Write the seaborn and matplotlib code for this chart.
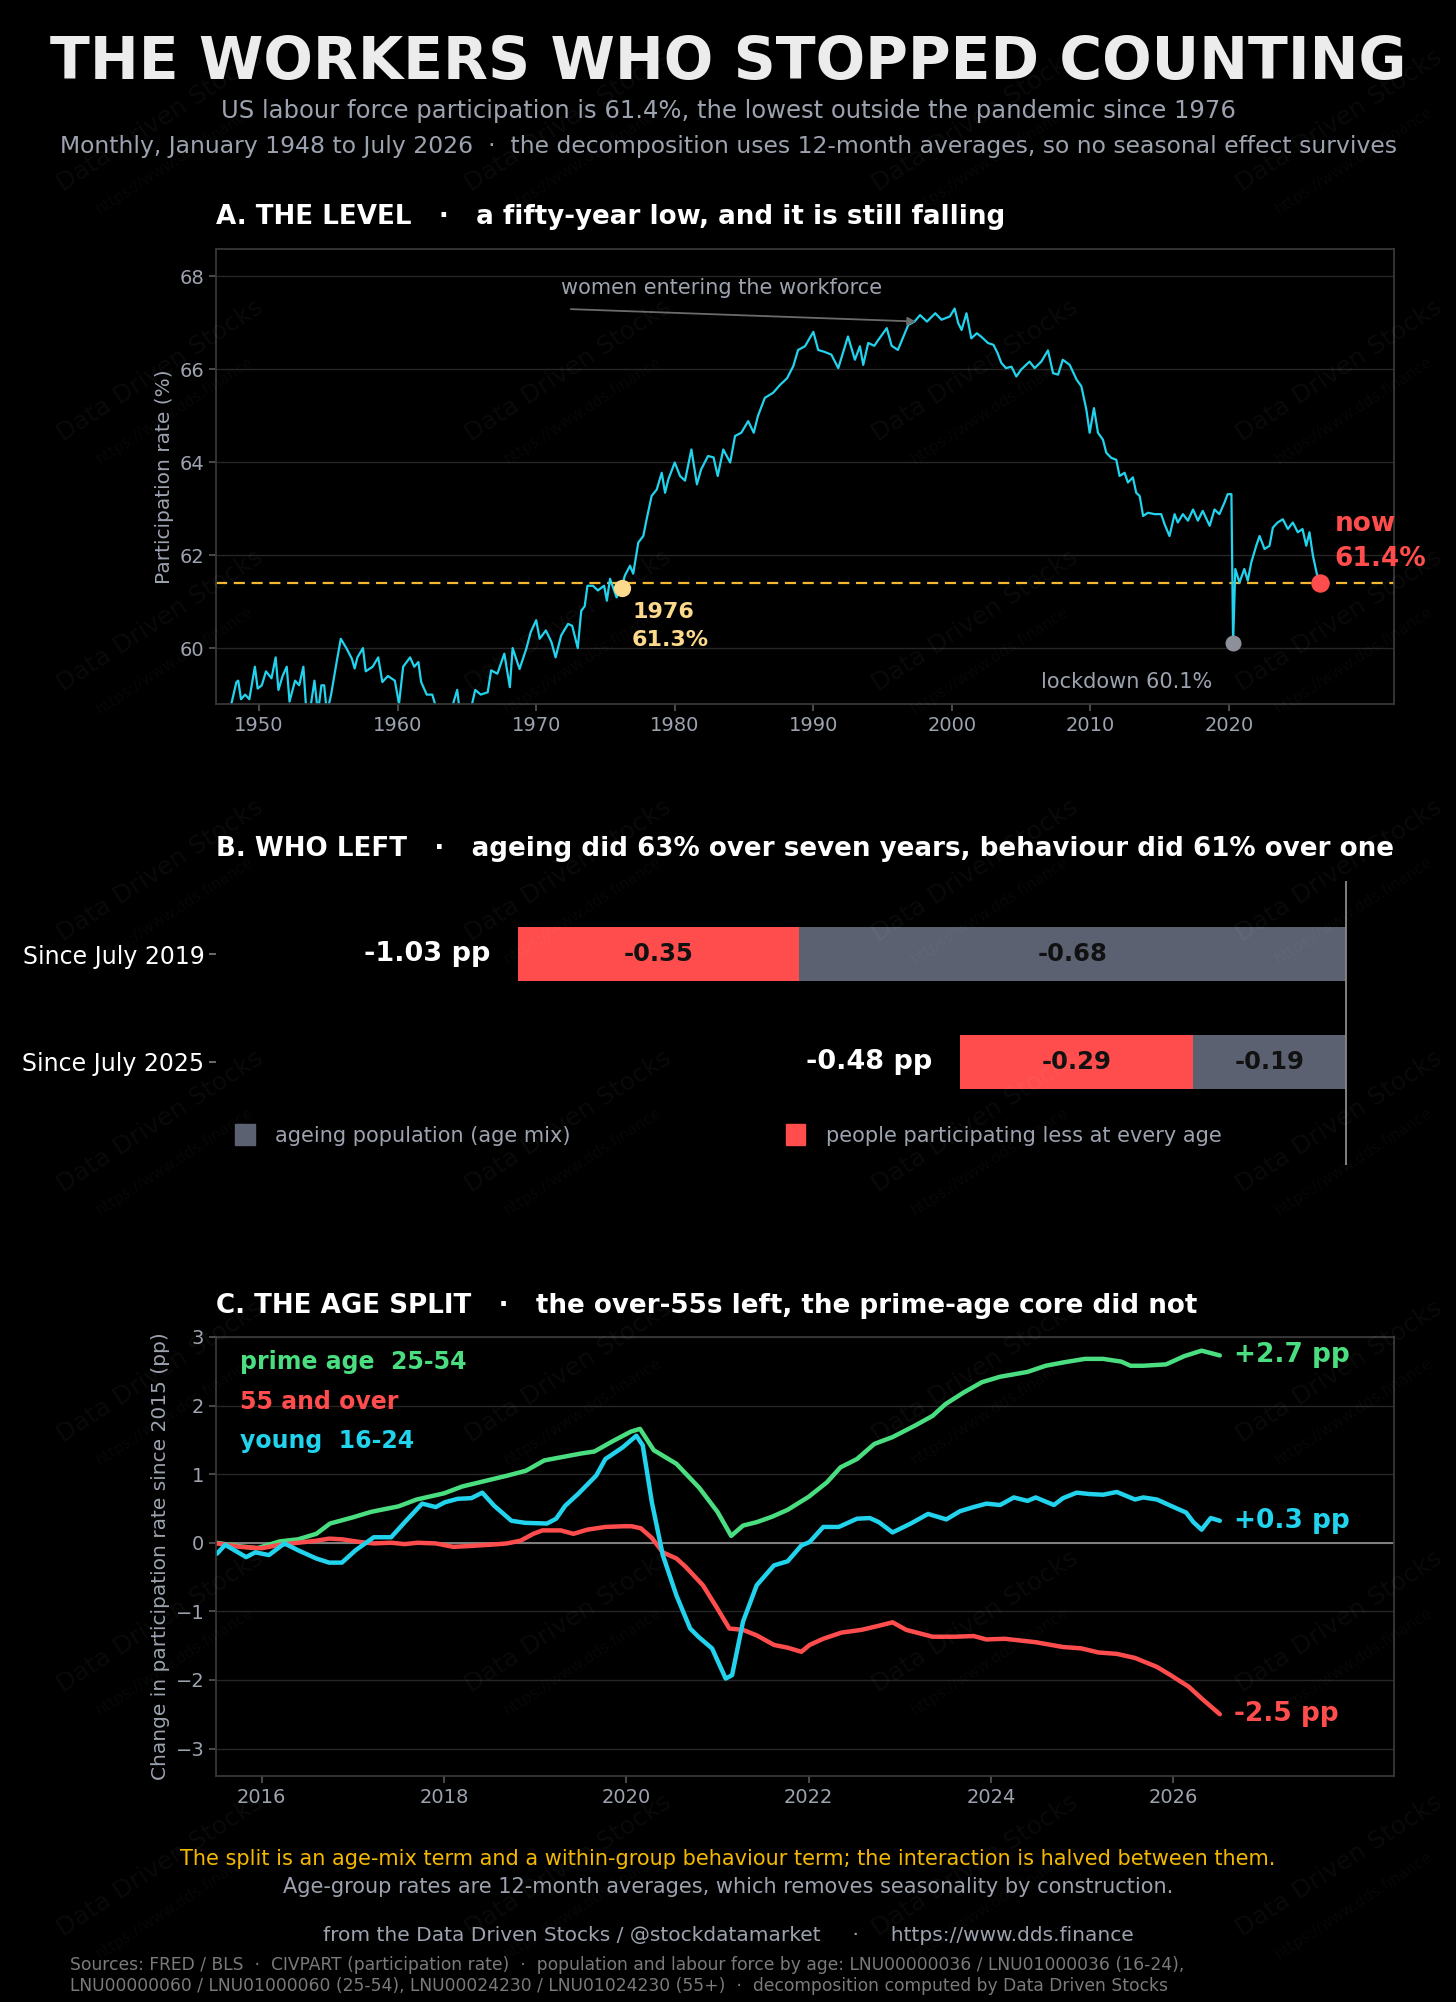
import matplotlib
matplotlib.use("Agg")
from matplotlib import pyplot as plt
from matplotlib.patches import Patch
import seaborn as sns

# Colours
BG = "#000000"
CYAN = "#22d3ee"
GREEN = "#4ade80"
RED = "#ff4d4d"
SLATE = "#5b6170"
AMBER = "#f5b731"
SAND = "#fcd98b"
MUTED = "#9ca3af"
GRIDC = "#262626"
SPINE = "#3a3a3a"

# A. participation rate (decimal year, %)
lfpr_year = [
    1948.0, 1948.37, 1948.5, 1948.7, 1949.0, 1949.3, 1949.7, 1949.9, 1950.2, 1950.5,
    1950.9, 1951.2, 1951.4, 1951.7, 1952.0, 1952.2, 1952.6, 1952.9, 1953.2, 1953.4,
    1953.7, 1954.0, 1954.25, 1954.5, 1954.7, 1954.9, 1955.2, 1955.6, 1955.9, 1956.3,
    1956.7, 1956.9, 1957.1, 1957.5, 1957.7, 1958.2, 1958.6, 1958.9, 1959.3, 1959.8,
    1960.1, 1960.4, 1960.9, 1961.2, 1961.5, 1961.7, 1962.1, 1962.5, 1962.8, 1963.4,
    1963.9, 1964.3, 1964.5, 1965.3, 1965.6, 1966.0, 1966.5, 1966.75, 1967.2, 1967.7,
    1968.1, 1968.3, 1968.8, 1969.3, 1969.6, 1970.0, 1970.25, 1970.7, 1971.1, 1971.4,
    1971.8, 1972.3, 1972.6, 1973.0, 1973.25, 1973.5, 1973.7, 1974.1, 1974.45, 1974.9,
    1975.1, 1975.33, 1975.8, 1976.17, 1976.4, 1976.77, 1977.0, 1977.37, 1977.73, 1977.97,
    1978.33, 1978.7, 1979.06, 1979.3, 1979.54, 1980.0, 1980.38, 1980.74, 1981.2, 1981.6,
    1981.9, 1982.4, 1982.8, 1983.1, 1983.5, 1984.0, 1984.35, 1984.8, 1985.3, 1985.7,
    1986.0, 1986.5, 1987.1, 1987.6, 1988.1, 1988.55, 1988.9, 1989.4, 1990.0, 1990.35,
    1990.8, 1991.3, 1991.8, 1992.5, 1993.0, 1993.36, 1993.6, 1993.96, 1994.4, 1994.7,
    1995.3, 1995.65, 1996.1, 1996.5, 1996.85, 1997.3, 1997.7, 1998.2, 1998.8, 1999.25,
    1999.85, 2000.2, 2000.45, 2000.7, 2001.05, 2001.4, 2001.8, 2002.1, 2002.6, 2003.0,
    2003.3, 2003.57, 2003.9, 2004.3, 2004.65, 2005.0, 2005.6, 2005.97, 2006.45, 2006.93,
    2007.3, 2007.66, 2008.0, 2008.5, 2009.0, 2009.34, 2009.7, 2009.94, 2010.25, 2010.54,
    2010.9, 2011.14, 2011.5, 2011.86, 2012.1, 2012.46, 2012.7, 2013.06, 2013.3, 2013.55,
    2013.8, 2014.15, 2014.63, 2015.1, 2015.35, 2015.7, 2016.07, 2016.3, 2016.67, 2017.03,
    2017.4, 2017.75, 2018.1, 2018.6, 2018.95, 2019.3, 2019.67, 2019.9, 2020.17, 2020.29,
    2020.45, 2020.75, 2021.1, 2021.35, 2021.6, 2021.96, 2022.2, 2022.56, 2022.92, 2023.16,
    2023.5, 2023.88, 2024.24, 2024.6, 2024.96, 2025.3, 2025.57, 2025.8, 2026.05, 2026.36,
    2026.53,
]
lfpr_rate = [
    58.8, 59.27, 59.3, 58.9, 59.0, 58.9, 59.6, 59.13, 59.2, 59.5,
    59.35, 59.8, 59.1, 59.4, 59.6, 58.85, 59.3, 59.2, 59.6, 58.7,
    58.7, 59.3, 58.6, 59.2, 59.2, 58.6, 59.0, 59.7, 60.2, 60.0,
    59.77, 59.56, 59.8, 60.0, 59.5, 59.6, 59.8, 59.27, 59.4, 59.3,
    58.8, 59.6, 59.8, 59.6, 59.7, 59.27, 59.0, 59.0, 58.7, 58.6,
    58.7, 59.1, 58.6, 58.7, 59.1, 59.0, 59.05, 59.52, 59.45, 59.88,
    59.16, 60.0, 59.55, 60.0, 60.34, 60.6, 60.2, 60.38, 60.13, 59.8,
    60.27, 60.52, 60.48, 60.0, 60.8, 60.9, 61.34, 61.34, 61.24, 61.34,
    61.02, 61.49, 61.09, 61.3, 61.56, 61.77, 61.6, 62.27, 62.41, 62.77,
    63.27, 63.41, 63.77, 63.34, 63.63, 63.99, 63.7, 63.6, 64.27, 63.52,
    63.84, 64.13, 64.1, 63.7, 64.27, 63.99, 64.56, 64.63, 64.88, 64.63,
    64.99, 65.38, 65.49, 65.66, 65.8, 66.06, 66.41, 66.49, 66.8, 66.41,
    66.37, 66.31, 66.02, 66.7, 66.2, 66.49, 66.09, 66.56, 66.5, 66.63,
    66.88, 66.5, 66.41, 66.7, 66.95, 67.02, 67.16, 67.02, 67.2, 67.06,
    67.13, 67.3, 66.99, 66.84, 67.2, 66.66, 66.77, 66.7, 66.56, 66.52,
    66.34, 66.13, 66.02, 66.05, 65.84, 65.99, 66.16, 66.02, 66.16, 66.4,
    65.91, 65.88, 66.2, 66.09, 65.77, 65.63, 65.13, 64.63, 65.16, 64.63,
    64.48, 64.2, 64.09, 64.05, 63.7, 63.77, 63.56, 63.67, 63.34, 63.27,
    62.84, 62.91, 62.88, 62.88, 62.66, 62.41, 62.88, 62.7, 62.88, 62.74,
    62.98, 62.74, 62.95, 62.63, 62.98, 62.88, 63.13, 63.31, 63.31, 60.1,
    61.7, 61.41, 61.7, 61.45, 61.84, 62.2, 62.41, 62.13, 62.2, 62.59,
    62.7, 62.77, 62.56, 62.7, 62.49, 62.56, 62.2, 62.49, 61.99, 61.56,
    61.4,
]
mark_1976 = (1976.17, 61.3)
decade_ticks = [1950, 1960, 1970, 1980, 1990, 2000, 2010, 2020]
rate_ticks = [60, 62, 64, 66, 68]

# B. decomposition of the fall (pp)
periods = ["Since July 2019", "Since July 2025"]
ageing = [-0.68, -0.19]
behaviour = [-0.35, -0.29]

# C. change since 2015 by age group (pp, 12-month averages)
prime_year = [
    2015.5, 2015.75, 2015.95, 2016.2, 2016.4, 2016.6, 2016.75, 2017.0, 2017.2, 2017.5,
    2017.7, 2018.0, 2018.2, 2018.45, 2018.7, 2018.9, 2019.1, 2019.3, 2019.5, 2019.65,
    2019.85, 2020.05, 2020.15, 2020.3, 2020.55, 2020.8, 2021.0, 2021.15, 2021.28, 2021.43,
    2021.6, 2021.77, 2022.0, 2022.2, 2022.35, 2022.53, 2022.72, 2022.92, 2023.17, 2023.36,
    2023.5, 2023.7, 2023.9, 2024.1, 2024.4, 2024.6, 2024.8, 2025.03, 2025.23, 2025.43,
    2025.53, 2025.67, 2025.92, 2026.12, 2026.31, 2026.51,
]
prime_chg = [
    0.0, -0.05, -0.08, 0.02, 0.05, 0.13, 0.28, 0.37, 0.45, 0.53,
    0.63, 0.72, 0.82, 0.9, 0.98, 1.05, 1.2, 1.25, 1.3, 1.33,
    1.48, 1.62, 1.66, 1.35, 1.15, 0.8, 0.45, 0.1, 0.25, 0.3,
    0.38, 0.48, 0.67, 0.88, 1.1, 1.22, 1.44, 1.54, 1.71, 1.85,
    2.02, 2.19, 2.34, 2.42, 2.49, 2.58, 2.63, 2.68, 2.68, 2.64,
    2.58, 2.58, 2.6, 2.72, 2.8, 2.73,
]
older_year = [
    2015.51, 2015.76, 2016.0, 2016.2, 2016.4, 2016.6, 2016.74, 2016.88, 2017.08, 2017.23,
    2017.42, 2017.57, 2017.71, 2017.91, 2018.1, 2018.25, 2018.5, 2018.69, 2018.84, 2018.98,
    2019.08, 2019.28, 2019.42, 2019.57, 2019.77, 2019.96, 2020.06, 2020.16, 2020.28, 2020.4,
    2020.55, 2020.65, 2020.84, 2020.99, 2021.13, 2021.28, 2021.43, 2021.62, 2021.77, 2021.92,
    2022.01, 2022.16, 2022.36, 2022.58, 2022.77, 2022.92, 2023.07, 2023.36, 2023.61, 2023.81,
    2023.95, 2024.15, 2024.49, 2024.79, 2024.99, 2025.18, 2025.38, 2025.58, 2025.82, 2025.97,
    2026.17, 2026.31, 2026.51,
]
older_chg = [
    -0.01, -0.06, -0.08, -0.03, 0.0, 0.03, 0.06, 0.05, 0.01, -0.01,
    0.0, -0.02, 0.0, -0.01, -0.06, -0.05, -0.03, -0.01, 0.03, 0.13,
    0.18, 0.18, 0.13, 0.19, 0.23, 0.24, 0.24, 0.21, 0.07, -0.14,
    -0.23, -0.35, -0.62, -0.94, -1.25, -1.27, -1.35, -1.49, -1.53, -1.59,
    -1.49, -1.4, -1.31, -1.27, -1.21, -1.16, -1.27, -1.37, -1.37, -1.36,
    -1.41, -1.4, -1.45, -1.52, -1.54, -1.6, -1.62, -1.68, -1.81, -1.93,
    -2.1, -2.27, -2.5,
]
young_year = [
    2015.51, 2015.6, 2015.83, 2015.93, 2016.08, 2016.25, 2016.4, 2016.6, 2016.74, 2016.88,
    2017.03, 2017.23, 2017.42, 2017.57, 2017.76, 2017.91, 2018.01, 2018.15, 2018.3, 2018.42,
    2018.55, 2018.74, 2018.89, 2019.13, 2019.23, 2019.33, 2019.47, 2019.67, 2019.77, 2019.96,
    2020.11, 2020.18, 2020.28, 2020.4, 2020.55, 2020.7, 2020.79, 2020.94, 2021.09, 2021.16,
    2021.28, 2021.43, 2021.62, 2021.77, 2021.92, 2022.01, 2022.16, 2022.33, 2022.53, 2022.67,
    2022.77, 2022.92, 2023.12, 2023.31, 2023.51, 2023.66, 2023.81, 2023.95, 2024.1, 2024.25,
    2024.4, 2024.49, 2024.69, 2024.79, 2024.94, 2025.08, 2025.23, 2025.38, 2025.58, 2025.67,
    2025.82, 2025.97, 2026.14, 2026.22, 2026.31, 2026.41, 2026.51,
]
young_chg = [
    -0.16, -0.03, -0.21, -0.14, -0.18, -0.01, -0.11, -0.23, -0.29, -0.29,
    -0.11, 0.08, 0.08, 0.3, 0.57, 0.52, 0.59, 0.64, 0.65, 0.73,
    0.54, 0.32, 0.29, 0.28, 0.35, 0.54, 0.71, 0.98, 1.22, 1.39,
    1.56, 1.42, 0.59, -0.18, -0.77, -1.25, -1.37, -1.54, -1.98, -1.93,
    -1.15, -0.62, -0.33, -0.27, -0.04, 0.01, 0.23, 0.23, 0.35, 0.36,
    0.3, 0.15, 0.28, 0.42, 0.34, 0.46, 0.52, 0.57, 0.55, 0.66,
    0.61, 0.66, 0.55, 0.65, 0.73, 0.71, 0.7, 0.74, 0.63, 0.66,
    0.63, 0.54, 0.44, 0.3, 0.19, 0.36, 0.32,
]
year_ticks = [2016, 2018, 2020, 2022, 2024, 2026]
chg_ticks = [-3, -2, -1, 0, 1, 2, 3]

sns.set_theme(style="dark", rc={
    "figure.facecolor": BG, "axes.facecolor": BG, "savefig.facecolor": BG,
    "axes.edgecolor": SPINE, "grid.color": GRIDC, "text.color": "white",
    "axes.labelcolor": MUTED, "xtick.color": MUTED, "ytick.color": MUTED,
    "xtick.bottom": True, "ytick.left": True,
})
plt.rcParams["font.family"] = ["DejaVu Sans"]

fig = plt.figure(figsize=(14.56, 20.02), dpi=100)
L, W = 0.1484, 0.809
axA = fig.add_axes([L, 0.6484, W, 0.2272])
axB = fig.add_axes([L, 0.4181, W, 0.1418])
axC = fig.add_axes([L, 0.1129, W, 0.2193])

# watermark (very faint), kept inside the canvas
for yy in [0.94, 0.815, 0.69, 0.565, 0.44, 0.315, 0.19, 0.068]:
    for xx in [0.11, 0.39, 0.67, 0.92]:
        fig.text(xx, yy, "Data Driven Stocks", rotation=33, ha="center", va="center",
                 fontsize=18, color="white", alpha=0.045)
        fig.text(xx + 0.01, yy - 0.02, "https://www.dds.finance", rotation=33, ha="center",
                 va="center", fontsize=11, color="white", alpha=0.035)

# header
fig.text(0.5, 0.969, "THE WORKERS WHO STOPPED COUNTING", ha="center", va="center",
         fontsize=42, fontweight="bold", color="#ececec")
fig.text(0.5, 0.9445, "US labour force participation is 61.4%, the lowest outside the pandemic since 1976",
         ha="center", va="center", fontsize=17.5, color=MUTED)
fig.text(0.5, 0.9266, "Monthly, January 1948 to July 2026  \u00b7  the decomposition uses 12-month averages, "
         "so no seasonal effect survives", ha="center", va="center", fontsize=16.9, color=MUTED)

# ---- A. level
sns.lineplot(x=lfpr_year, y=lfpr_rate, ax=axA, color=CYAN, lw=1.6)
now_x, now_y = lfpr_year[-1], lfpr_rate[-1]
low_i = lfpr_rate.index(min(lfpr_rate[-80:]))
axA.axhline(now_y, color=AMBER, lw=1.6, ls=(0, (5, 3)), zorder=1)
axA.scatter([mark_1976[0]], [mark_1976[1]], s=130, color=SAND, zorder=5)
axA.scatter([lfpr_year[low_i]], [lfpr_rate[low_i]], s=110, color="#8e9099", zorder=5)
axA.scatter([now_x], [now_y], s=150, color=RED, zorder=5)
axA.text(mark_1976[0] + 0.75, mark_1976[1] - 0.3, f"{int(mark_1976[0])}\n{mark_1976[1]:.1f}%",
         color=SAND, fontsize=16, fontweight="bold", va="top", ha="left", linespacing=1.5)
axA.text(now_x + 1.1, 62.95, f"now\n{now_y:.1f}%", color=RED, fontsize=19,
         fontweight="bold", va="top", ha="left", linespacing=1.45)
axA.text(2012.6, 59.28, f"lockdown {lfpr_rate[low_i]:.1f}%", color=MUTED, fontsize=15,
         ha="center", va="center")
axA.text(1971.8, 67.75, "women entering the workforce", color=MUTED, fontsize=15,
         ha="left", va="center")
axA.annotate("", xy=(1997.6, 67.02), xytext=(1972.3, 67.29),
             arrowprops=dict(arrowstyle="-|>", color="#6b6b6b", lw=1.3, mutation_scale=12))
axA.set_xlim(1946.9, 2031.9)
axA.set_ylim(58.8, 68.58)
axA.set_xticks(decade_ticks)
axA.set_yticks(rate_ticks)
axA.set_xlabel("")
axA.set_ylabel("Participation rate (%)", fontsize=14.5)
axA.grid(axis="y", color=GRIDC, lw=1)
axA.grid(axis="x", visible=False)
axA.tick_params(labelsize=14, length=5, color="#555")
axA.text(0, 1.07, "A. THE LEVEL   \u00b7   a fifty-year low, and it is still falling",
         transform=axA.transAxes, fontsize=18.8, fontweight="bold", color="white", va="center")

# ---- B. who left
totals = [a + b for a, b in zip(ageing, behaviour)]
sns.barplot(x=totals, y=periods, orient="h", color=RED, width=0.5, saturation=1,
            linewidth=0, edgecolor="none", ax=axB)
sns.barplot(x=ageing, y=periods, orient="h", color=SLATE, width=0.5, saturation=1,
            linewidth=0, edgecolor="none", ax=axB)
for i, (a, b, t) in enumerate(zip(ageing, behaviour, totals)):
    axB.text(a / 2, i, f"{a:.2f}", ha="center", va="center", fontsize=17.5,
             fontweight="bold", color="#111")
    axB.text(a + b / 2, i, f"{b:.2f}", ha="center", va="center", fontsize=17.5,
             fontweight="bold", color="#111")
    axB.text(t - 0.034, i, f"{t:.2f} pp", ha="right", va="center", fontsize=19.5,
             fontweight="bold", color="white")
axB.axvline(0, color="#8a8a8a", lw=1.3)
axB.set_xlim(-1.405, 0.06)
axB.set_ylim(1.96, -0.68)
axB.set_xticks([])
axB.set_xlabel("")
axB.set_ylabel("")
axB.tick_params(axis="y", labelsize=17, labelcolor="white", length=5, color="#777")
for s in axB.spines.values():
    s.set_visible(False)
axB.grid(False)
hB = [Patch(color=SLATE, label="ageing population (age mix)"),
      Patch(color=RED, label="people participating less at every age")]
axB.legend(handles=hB, loc="center left", bbox_to_anchor=(0.0, 0.105), ncol=2,
           frameon=False, fontsize=15, labelcolor=MUTED, handlelength=0.95,
           handleheight=1.15, handletextpad=1.0, columnspacing=10.3)
axB.text(0, 1.113, "B. WHO LEFT   \u00b7   ageing did 63% over seven years, behaviour did 61% over one",
         transform=axB.transAxes, fontsize=18.8, fontweight="bold", color="white", va="center")

# ---- C. age split
groups = [
    ("prime age  25-54", prime_year, prime_chg, GREEN),
    ("55 and over", older_year, older_chg, RED),
    ("young  16-24", young_year, young_chg, CYAN),
]
axC.axhline(0, color="#8a8a8a", lw=1.3, zorder=1)
for k, (name, xs, ys, col) in enumerate(groups):
    sns.lineplot(x=xs, y=ys, ax=axC, color=col, lw=3.2)
    axC.text(xs[-1] + 0.15, ys[-1], f"{ys[-1]:+.1f} pp", color=col, fontsize=19,
             fontweight="bold", va="center", ha="left")
    axC.text(0.02, 0.942 - k * 0.09, name, transform=axC.transAxes, color=col,
             fontsize=17, fontweight="bold", va="center", ha="left")
axC.set_xlim(2015.5, 2028.42)
axC.set_ylim(-3.4, 3.0)
axC.set_xticks(year_ticks)
axC.set_yticks(chg_ticks)
axC.set_yticklabels([f"{v}".replace("-", "\u2212") for v in chg_ticks])
axC.set_xlabel("")
axC.set_ylabel("Change in participation rate since 2015 (pp)", fontsize=14.5)
axC.grid(axis="y", color=GRIDC, lw=1)
axC.grid(axis="x", visible=False)
axC.tick_params(labelsize=14, length=5, color="#555")
axC.text(0, 1.071, "C. THE AGE SPLIT   \u00b7   the over-55s left, the prime-age core did not",
         transform=axC.transAxes, fontsize=18.8, fontweight="bold", color="white", va="center")

# footer
fig.text(0.5, 0.0714, "The split is an age-mix term and a within-group behaviour term; "
         "the interaction is halved between them.", ha="center", va="center",
         fontsize=15, color="#f5b800")
fig.text(0.5, 0.0574, "Age-group rates are 12-month averages, which removes seasonality by construction.",
         ha="center", va="center", fontsize=15, color=MUTED)
fig.text(0.5, 0.0330, "from the Data Driven Stocks / @stockdatamarket     \u00b7     https://www.dds.finance",
         ha="center", va="center", fontsize=14.5, color=MUTED)
fig.text(0.048, 0.0185, "Sources: FRED / BLS  \u00b7  CIVPART (participation rate)  \u00b7  population and labour "
         "force by age: LNU00000036 / LNU01000036 (16-24),", ha="left", va="center",
         fontsize=12.3, color="#7a7a7a")
fig.text(0.048, 0.0080, "LNU00000060 / LNU01000060 (25-54), LNU00024230 / LNU01024230 (55+)  \u00b7  "
         "decomposition computed by Data Driven Stocks", ha="left", va="center",
         fontsize=12.3, color="#7a7a7a")

fig.savefig("out.png", dpi=100, facecolor=BG)
